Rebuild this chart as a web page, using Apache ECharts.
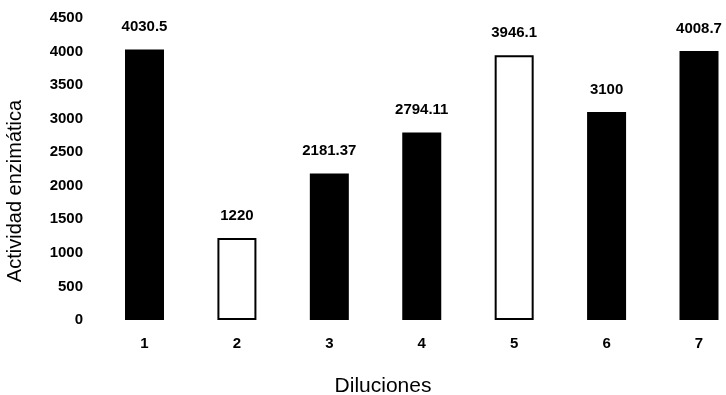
<!DOCTYPE html>
<html>
<head>
<meta charset="utf-8">
<script src="https://cdn.jsdelivr.net/npm/echarts@6/dist/echarts.min.js"></script>
<style>
  html, body { margin: 0; padding: 0; background: #fff; }
  #chart { width: 726px; height: 395px; }
</style>
</head>
<body>
<div id="chart"></div>
<script>
// Enzyme activity for each dilution
const diluciones = ['1', '2', '3', '4', '5', '6', '7'];
const actividad = [4030.5, 1220, 2181.37, 2794.11, 3946.1, 3100, 4008.7];
// Dilutions drawn as open (white) bars
const barrasAbiertas = ['2', '5'];
const yTicks = [0, 500, 1000, 1500, 2000, 2500, 3000, 3500, 4000, 4500];

const FONT = '"Liberation Sans", Arial, sans-serif';

const chart = echarts.init(document.getElementById('chart'), null, { renderer: 'canvas' });

const data = actividad.map((v, i) => {
  const open = barrasAbiertas.includes(diluciones[i]);
  return {
    value: v,
    itemStyle: open
      ? { color: '#ffffff', borderColor: '#000000', borderWidth: 2 }
      : { color: '#000000', borderColor: '#000000', borderWidth: 0 }
  };
});

chart.setOption({
  animation: false,
  backgroundColor: '#ffffff',
  // categories sit on the grid edges so the last bar can reach close to the right border
  grid: { left: 144.5, right: 27, top: 18, bottom: 75, containLabel: false },
  xAxis: {
    type: 'category',
    data: diluciones,
    boundaryGap: false,
    axisLine: { show: false },
    axisTick: { show: false },
    axisLabel: {
      margin: 16,
      color: '#000',
      fontFamily: FONT,
      fontWeight: 'bold',
      fontSize: 15
    }
  },
  yAxis: {
    type: 'value',
    min: yTicks[0],
    max: yTicks[yTicks.length - 1],
    interval: 500,
    axisLine: { show: false },
    axisTick: { show: false },
    splitLine: { show: false },
    axisLabel: {
      margin: 61.5,
      color: '#000',
      fontFamily: FONT,
      fontWeight: 'bold',
      fontSize: 15,
      formatter: v => String(v)
    }
  },
  series: [{
    type: 'bar',
    data: data,
    barWidth: 39,
    clip: false,
    label: {
      show: true,
      position: 'top',
      distance: 15,
      color: '#000',
      fontFamily: FONT,
      fontWeight: 'bold',
      fontSize: 15,
      formatter: p => String(p.value)
    }
  }],
  graphic: [
    {
      type: 'text',
      x: 15,
      y: 191,
      rotation: Math.PI / 2,
      style: {
        text: 'Actividad enzimática',
        fontFamily: FONT,
        fontSize: 20,
        fill: '#000',
        align: 'center',
        verticalAlign: 'middle'
      }
    },
    {
      type: 'text',
      x: 383,
      y: 386,
      style: {
        text: 'Diluciones',
        fontFamily: FONT,
        fontSize: 21,
        fill: '#000',
        align: 'center',
        verticalAlign: 'middle'
      }
    }
  ]
});
</script>
</body>
</html>
